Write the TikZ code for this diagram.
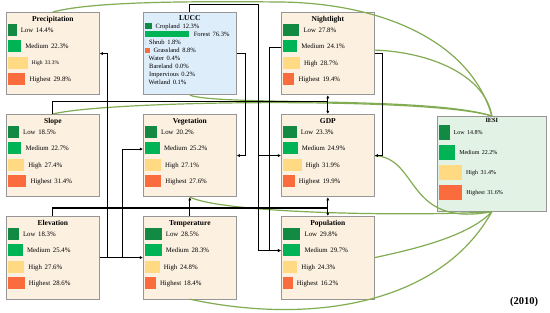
\documentclass[tikz,border=0pt]{standalone}
\usepackage{fontspec}
\setmainfont{Liberation Serif}
\usetikzlibrary{calc,arrows.meta}
\definecolor{cLow}{RGB}{18,138,68}
\definecolor{cMed}{RGB}{0,180,85}
\definecolor{cHigh}{RGB}{255,218,130}
\definecolor{cTop}{RGB}{250,108,62}
\definecolor{boxfill}{RGB}{252,240,224}
\definecolor{luccfill}{RGB}{222,237,250}
\definecolor{iesifill}{RGB}{226,242,228}
\definecolor{boxedge}{RGB}{150,150,150}
\definecolor{edgegreen}{RGB}{130,172,82}
\tikzset{
  factorbox/.style={draw=boxedge, line width=0.7pt, minimum width=93pt, minimum height=82.5pt, inner sep=0pt},
  ttl/.style={font=\bfseries\fontsize{7.5}{9}\selectfont, inner sep=0pt, text height=5pt, text depth=0pt},
  barbox/.style={anchor=west, inner sep=0pt, minimum height=12pt, draw=none},
  lbl/.style={anchor=west, inner sep=0pt, text height=4.6pt, text depth=0pt, font=\fontsize{6.8}{8}\selectfont},
  lbls/.style={anchor=west, inner sep=0pt, text height=3.7pt, text depth=0pt, font=\fontsize{5.5}{6.5}\selectfont},
  lbar/.style={anchor=west, inner sep=0pt, minimum height=5.5pt, draw=none},
  llbl/.style={anchor=west, inner sep=0pt, text height=4.4pt, text depth=0pt, font=\fontsize{6.5}{8}\selectfont},
  ibar/.style={anchor=west, inner sep=0pt, minimum height=15pt, draw=none},
  ilbl/.style={anchor=west, inner sep=0pt, text height=4pt, text depth=0pt, font=\fontsize{6}{7}\selectfont},
  conn/.style={draw=black, line width=1pt, -{Latex[length=3.2pt,width=3.2pt]}},
  gcurve/.style={draw=edgegreen, line width=1.2pt}
}
\newcommand{\fbx}[5]{%
  \node[factorbox, fill=#5, anchor=north west] (#1) at (#2,#3) {};
  \node[ttl] (#1-t) at ($(#1.north)+(0,7)$) {#4};
}
\newcommand{\brow}[6]{%
  \node[barbox, fill=#3, minimum width={#5*0.58pt}] (#1-b#2) at ($(#1.north west)+(2,{18+16.4*(#2-1)})$) {};
  \node[#6] (#1-l#2) at ($(#1-b#2.east)+(3.8,0)$) {#4\hspace{0.4em}#5\%};
}
\newcommand{\irow}[4]{%
  \node[ibar, fill=#2, minimum width={#4*0.75pt}] (iesi-b#1) at ($(iesi.north west)+(1.5,{16.5+20*(#1-1)})$) {};
  \node[ilbl] (iesi-l#1) at ($(iesi-b#1.east)+(3.5,0)$) {#3\hspace{0.4em}#4\%};
}
\begin{document}
\begin{tikzpicture}[x=1pt,y=-1pt]
\useasboundingbox (0,0) rectangle (550,313);
\fill[white] (0,0) rectangle (550,313);

% factor boxes
\fbx{prec}{6}{12}{Precipitation}{boxfill}
\brow{prec}{1}{cLow}{Low}{14.4}{lbl}
\brow{prec}{2}{cMed}{Medium}{22.3}{lbl}
\brow{prec}{3}{cHigh}{High}{33.3}{lbls}
\brow{prec}{4}{cTop}{Highest}{29.8}{lbl}

\fbx{night}{281}{12}{Nightlight}{boxfill}
\brow{night}{1}{cLow}{Low}{27.8}{lbl}
\brow{night}{2}{cMed}{Medium}{24.1}{lbl}
\brow{night}{3}{cHigh}{High}{28.7}{lbl}
\brow{night}{4}{cTop}{Highest}{19.4}{lbl}

\fbx{slope}{6}{114}{Slope}{boxfill}
\brow{slope}{1}{cLow}{Low}{18.5}{lbl}
\brow{slope}{2}{cMed}{Medium}{22.7}{lbl}
\brow{slope}{3}{cHigh}{High}{27.4}{lbl}
\brow{slope}{4}{cTop}{Highest}{31.4}{lbl}

\fbx{veg}{143}{114}{Vegetation}{boxfill}
\brow{veg}{1}{cLow}{Low}{20.2}{lbl}
\brow{veg}{2}{cMed}{Medium}{25.2}{lbl}
\brow{veg}{3}{cHigh}{High}{27.1}{lbl}
\brow{veg}{4}{cTop}{Highest}{27.6}{lbl}

\fbx{gdp}{281}{114}{GDP}{boxfill}
\brow{gdp}{1}{cLow}{Low}{23.3}{lbl}
\brow{gdp}{2}{cMed}{Medium}{24.9}{lbl}
\brow{gdp}{3}{cHigh}{High}{31.9}{lbl}
\brow{gdp}{4}{cTop}{Highest}{19.9}{lbl}

\fbx{elev}{6}{216}{Elevation}{boxfill}
\brow{elev}{1}{cLow}{Low}{18.3}{lbl}
\brow{elev}{2}{cMed}{Medium}{25.4}{lbl}
\brow{elev}{3}{cHigh}{High}{27.6}{lbl}
\brow{elev}{4}{cTop}{Highest}{28.6}{lbl}

\fbx{temp}{143}{216}{Temperature}{boxfill}
\brow{temp}{1}{cLow}{Low}{28.5}{lbl}
\brow{temp}{2}{cMed}{Medium}{28.3}{lbl}
\brow{temp}{3}{cHigh}{High}{24.8}{lbl}
\brow{temp}{4}{cTop}{Highest}{18.4}{lbl}

\fbx{pop}{281}{216}{Population}{boxfill}
\brow{pop}{1}{cLow}{Low}{29.8}{lbl}
\brow{pop}{2}{cMed}{Medium}{29.7}{lbl}
\brow{pop}{3}{cHigh}{High}{24.3}{lbl}
\brow{pop}{4}{cTop}{Highest}{16.2}{lbl}

% LUCC
\node[factorbox, fill=luccfill, anchor=north west] (lucc) at (143,12) {};
\node[ttl] (lucc-t) at ($(lucc.north)+(0,6.5)$) {LUCC};
\node[lbar, fill=cLow, minimum width={12.3*0.58pt}] (lucc-b1) at ($(lucc.north west)+(2,14)$) {};
\node[llbl] (lucc-l1) at ($(lucc-b1.east)+(3,0)$) {Cropland\hspace{0.4em}12.3\%};
\node[lbar, fill=cMed, minimum width={76.3*0.58pt}] (lucc-b2) at ($(lucc.north west)+(2,22.1)$) {};
\node[llbl] (lucc-l2) at ($(lucc-b2.east)+(4,0)$) {Forest\hspace{0.4em}76.3\%};
\node[lbar, fill=cHigh, minimum width={1.8*0.58pt}] (lucc-b3) at ($(lucc.north west)+(2,30.2)$) {};
\node[llbl] (lucc-l3) at ($(lucc-b3.east)+(2.5,0)$) {Shrub\hspace{0.4em}1.8\%};
\node[lbar, fill=cTop, minimum width={8.8*0.58pt}] (lucc-b4) at ($(lucc.north west)+(2,38.3)$) {};
\node[llbl] (lucc-l4) at ($(lucc-b4.east)+(3,0)$) {Grassland\hspace{0.4em}8.8\%};
\node[llbl] (lucc-l5) at ($(lucc.north west)+(5.5,46.4)$) {Water\hspace{0.4em}0.4\%};
\node[llbl] (lucc-l6) at ($(lucc.north west)+(6,54.5)$) {Bareland\hspace{0.4em}0.0\%};
\node[llbl] (lucc-l7) at ($(lucc.north west)+(6,62.6)$) {Impervious\hspace{0.4em}0.2\%};
\node[llbl] (lucc-l8) at ($(lucc.north west)+(5.5,70.7)$) {Wetland\hspace{0.4em}0.1\%};

% IESI
\node[factorbox, fill=iesifill, minimum width=109pt, minimum height=95pt, anchor=north west] (iesi) at (437,116) {};
\node[ttl, font=\bfseries\fontsize{6.3}{7}\selectfont, text height=4.2pt] (iesi-t) at ($(iesi.north)+(0,4.8)$) {IESI};
\irow{1}{cLow}{Low}{14.8}
\irow{2}{cMed}{Medium}{22.2}
\irow{3}{cHigh}{High}{31.4}
\irow{4}{cTop}{Highest}{31.6}

\node[font=\bfseries\fontsize{10.5}{12}\selectfont, inner sep=0pt] (year) at (524,302) {(2010)};

% green links to IESI
\draw[gcurve] (prec.north) .. controls (90,2) and (180,1) .. (280,2) .. controls (380,3) and (470,40) .. (iesi.north);
\draw[gcurve] ($(night.east)+(0,-3.5)$) .. controls (430,52) and (485,75) .. (iesi.north);
\draw[gcurve] (lucc.south) .. controls (220,106) and (430,96) .. (iesi.north);
\draw[gcurve] (slope.north) .. controls (110,100) and (430,97) .. (iesi.north);
\draw[gcurve] (veg.south) .. controls (230,215) and (430,216) .. (iesi.south);
\draw[gcurve] (gdp.east) .. controls (420,158) and (405,228) .. (iesi.south);
\draw[gcurve] (pop.east) .. controls (420,248) and (470,235) .. (iesi.south);
\draw[gcurve] (temp.south) .. controls (310,325) and (440,305) .. (iesi.south);

% black connectors
\coordinate (lbus) at ($(lucc.north)+(68.5,-7)$);
\coordinate (popW) at ($(pop.west)+(0,-7)$);
\coordinate (vegW) at ($(veg.west)+(0,-6.5)$);
\coordinate (nlW) at ($(night.west)+(0,-6.5)$);
\coordinate (sbus) at ($(night.south)+(0,6)$);
\coordinate (ebusA) at ($(gdp.south)+(0,10.5)$);
\coordinate (ebusB) at ($(pop.north)+(0,-7)$);

\draw[conn] (lucc.north) |- (lbus) |- (gdp.west);
\draw[conn] (lbus) |- (popW);
\draw[conn] (lucc.east) -- ++(9,0) |- (veg.east);
\draw[conn] (nlW) -- ++(-12,0) |- (popW);
\draw[conn] (night.east) -- ++(8,0) |- (gdp.east);
\draw[conn] (slope.north) |- (sbus) -- (night.south);
\draw[conn] (sbus) -- (gdp.north);
\draw[conn] (elev.east) -- ++(8,0) |- (prec.east);
\draw[conn] (elev.east) -- ++(23,0) |- (vegW);
\draw[conn] (elev.east) -- (temp.west);
\draw[conn] (elev.north) |- (ebusA) -- (gdp.south);
\draw[conn] (elev.north) |- (ebusB) -- (pop.north);
\draw[conn] (temp.north) -- (veg.south);
\end{tikzpicture}
\end{document}
